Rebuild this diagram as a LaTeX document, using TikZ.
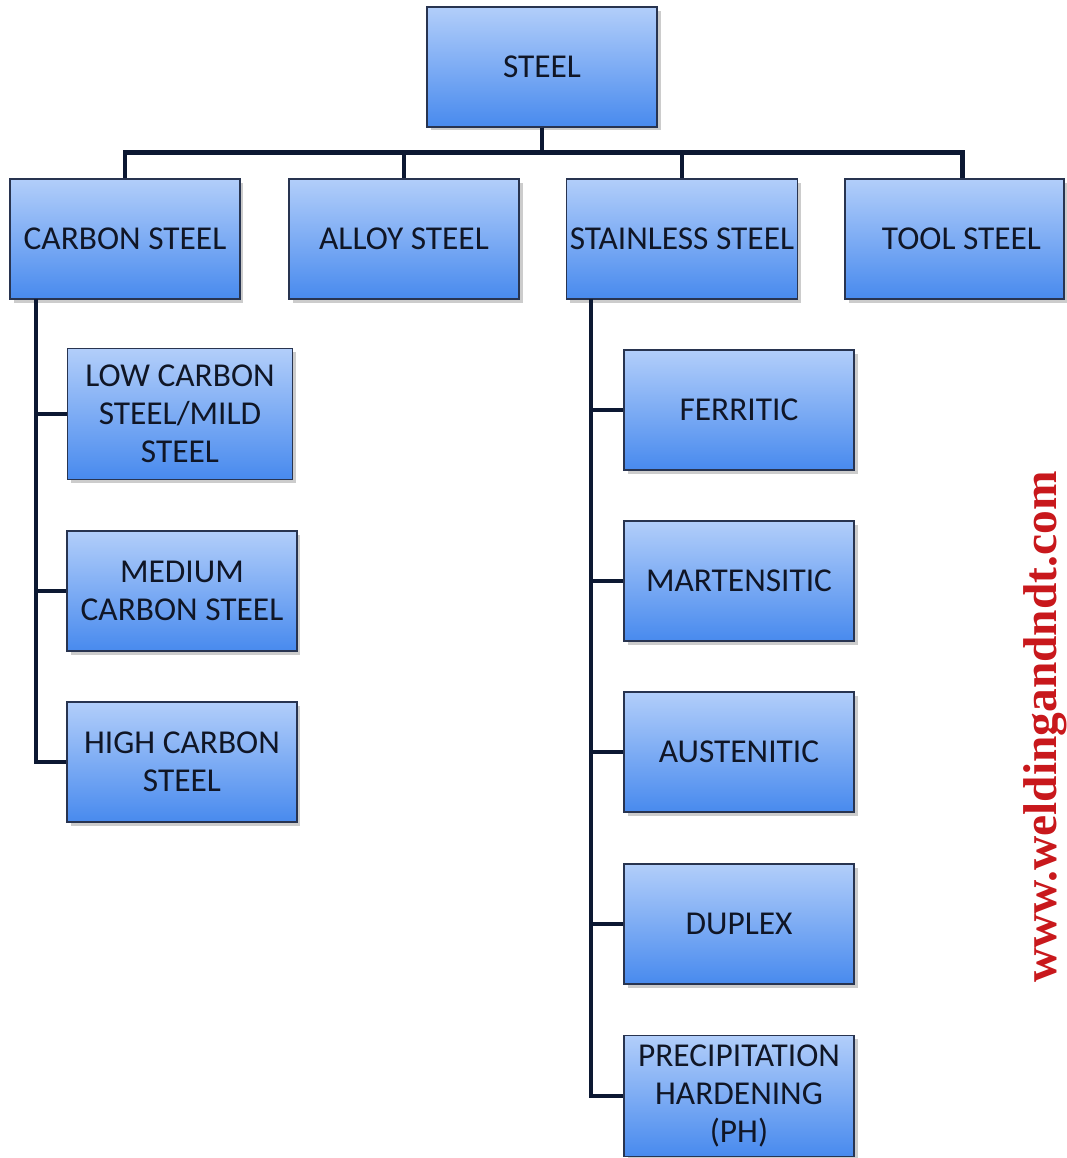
\documentclass[tikz,border=0pt]{standalone}
\usepackage{fontspec}
\setmainfont{Carlito}
\newfontfamily\markfont{Liberation Serif}
\usetikzlibrary{shadows}

\definecolor{boxtop}{RGB}{178,206,250}
\definecolor{boxbot}{RGB}{72,138,238}
\definecolor{boxline}{RGB}{40,52,80}
\definecolor{wire}{RGB}{12,24,50}
\definecolor{inktext}{RGB}{16,22,38}
\definecolor{markred}{RGB}{200,24,28}

\begin{document}
\begin{tikzpicture}[x=0.02cm, y=-0.02cm,
    steelbox/.style={draw=boxline, line width=0.8pt, top color=boxtop, bottom color=boxbot,
        drop shadow={shadow xshift=2pt, shadow yshift=-2pt, opacity=0.4},
        minimum width=4.6cm, minimum height=2.4cm, inner sep=2pt, align=center,
        text=inktext, font=\fontsize{19}{21.5}\selectfont},
    wireline/.style={draw=wire, line width=2.8pt}]
    \useasboundingbox (0,0) rectangle (1066,1158);

    \node[steelbox] (steel) at (542,67) {STEEL};

    \node[steelbox] (carbon) at (125,239) {CARBON STEEL};
    \node[steelbox] (alloy) at (404,239) {ALLOY STEEL};
    \node[steelbox] (stainless) at (682,239) {STAINLESS STEEL};
    \node[steelbox, minimum width=4.38cm] (tool) at (954.5,239) {\hspace*{8pt}TOOL STEEL};

    \node[steelbox, minimum width=4.5cm, minimum height=2.62cm] (low) at (180,414) {LOW CARBON\\STEEL/MILD\\STEEL};
    \node[steelbox] (medium) at (182,591) {MEDIUM\\CARBON STEEL};
    \node[steelbox] (high) at (182,762) {HIGH CARBON\\STEEL};

    \node[steelbox] (ferritic) at (739,410) {FERRITIC};
    \node[steelbox] (martensitic) at (739,581) {MARTENSITIC};
    \node[steelbox] (austenitic) at (739,752) {AUSTENITIC};
    \node[steelbox] (duplex) at (739,924) {DUPLEX};
    \node[steelbox, minimum height=2.42cm] (ph) at (739,1096) {PRECIPITATION\\HARDENING\\(PH)};

    \coordinate (ctrunk) at (36,299);
    \coordinate (strunk) at (591,299);

    % main bus
    \foreach \n in {carbon,alloy,stainless}
        \draw[wireline] (steel.south) -- ++(0,25) -| (\n.north);
    \draw[wireline] (steel.south) -- ++(0,25) -| ([xshift=0.16cm]tool.north);

    % carbon steel branch
    \draw[wireline] (ctrunk) |- (high.west);
    \foreach \n in {low,medium}
        \draw[wireline] (\n.west) -- (\n.west -| ctrunk);

    % stainless steel branch
    \draw[wireline] (strunk) |- (ph.west);
    \foreach \n in {ferritic,martensitic,austenitic,duplex}
        \draw[wireline] (\n.west) -- (\n.west -| strunk);

    \node[rotate=90, text=markred, font=\markfont\bfseries\fontsize{27}{29}\selectfont] (site) at (1045,727) {www.weldingandndt.com};
\end{tikzpicture}
\end{document}
